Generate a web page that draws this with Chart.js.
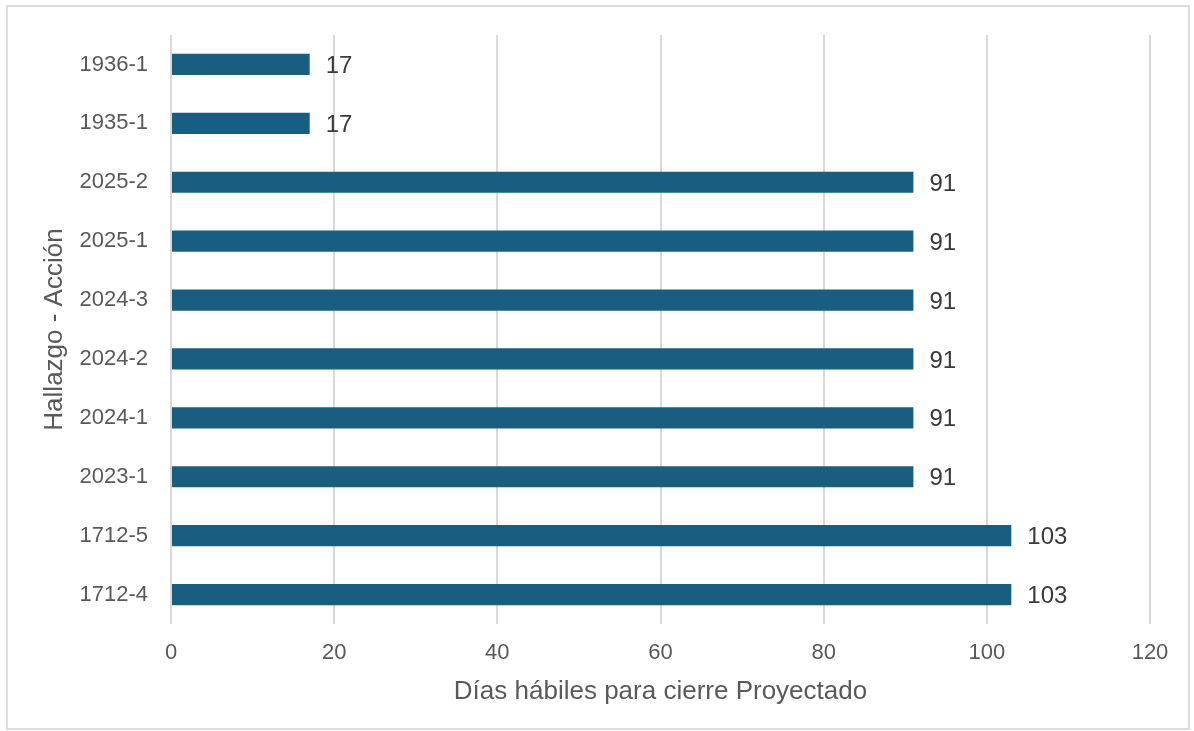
<!DOCTYPE html>
<html>
<head>
<meta charset="utf-8">
<script src="https://cdn.jsdelivr.net/npm/chart.js@4"></script>
<style>
    html, body { margin: 0; padding: 0; background: #fff; }
    #frame {
        position: absolute; left: 6px; top: 5px; width: 1180px; height: 721px;
        border: 2px solid #dcdcdc; box-sizing: content-box;
    }
    #wrap { position: absolute; left: 0; top: 0; width: 1194px; height: 731px; }
</style>
</head>
<body>
<div id="frame"></div>
<div id="wrap"><canvas id="cierreChart"></canvas></div>
<script>
    const categories = ['1936-1', '1935-1', '2025-2', '2025-1', '2024-3', '2024-2', '2024-1', '2023-1', '1712-5', '1712-4'];
    const dias = [17, 17, 91, 91, 91, 91, 91, 91, 103, 103];
    const xTicks = [0, 20, 40, 60, 80, 100, 120];

    // etiquetas de valor al final de cada barra
    const valueLabels = {
        id: 'valueLabels',
        afterDatasetsDraw(chart) {
            const ctx = chart.ctx;
            const meta = chart.getDatasetMeta(0);
            ctx.save();
            ctx.font = '24px "Liberation Sans", Arial, sans-serif';
            ctx.fillStyle = '#3a3a3a';
            ctx.textBaseline = 'middle';
            ctx.textAlign = 'left';
            meta.data.forEach((bar, i) => {
                ctx.fillText(String(dias[i]), bar.x + 16, bar.y + 2);
            });
            ctx.restore();
        }
    };

    const ctx = document.getElementById('cierreChart').getContext('2d');
    new Chart(ctx, {
        type: 'bar',
        data: {
            labels: categories,
            datasets: [{
                data: dias,
                backgroundColor: '#195e81',
                borderWidth: 0,
                categoryPercentage: 1,
                barPercentage: 0.36
            }]
        },
        options: {
            indexAxis: 'y',
            responsive: true,
            maintainAspectRatio: false,
            animation: false,
            layout: { padding: { top: 35, right: 44, bottom: 21, left: 35 } },
            plugins: {
                legend: { display: false },
                tooltip: { enabled: false }
            },
            scales: {
                x: {
                    min: 0,
                    max: 120,
                    afterBuildTicks: (scale) => { scale.ticks = xTicks.map(v => ({ value: v })); },
                    afterFit: (scale) => { scale.height = 86; },
                    grid: { color: '#d9d9d9', lineWidth: 2, drawTicks: false },
                    border: { display: false },
                    ticks: {
                        padding: 16,
                        color: '#595959',
                        font: { family: '"Liberation Sans", Arial, sans-serif', size: 22 }
                    },
                    title: {
                        display: true,
                        text: 'Días hábiles para cierre Proyectado',
                        color: '#595959',
                        font: { family: '"Liberation Sans", Arial, sans-serif', size: 26 },
                        padding: { top: 4, bottom: 3 }
                    }
                },
                y: {
                    afterFit: (scale) => { scale.width = 136; },
                    grid: { display: false },
                    border: { display: false },
                    ticks: {
                        padding: 15,
                        color: '#595959',
                        font: { family: '"Liberation Sans", Arial, sans-serif', size: 22 }
                    },
                    title: {
                        display: true,
                        text: 'Hallazgo - Acción',
                        color: '#595959',
                        font: { family: '"Liberation Sans", Arial, sans-serif', size: 26 },
                        padding: { top: 4, bottom: 4 }
                    }
                }
            }
        },
        plugins: [valueLabels]
    });
</script>
</body>
</html>
